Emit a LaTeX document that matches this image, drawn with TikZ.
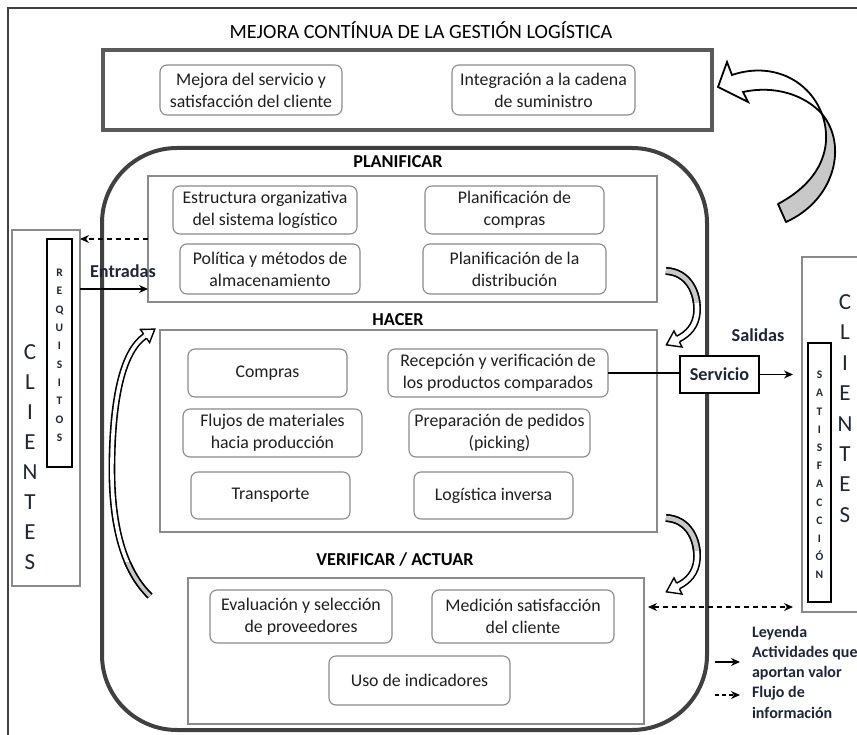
\documentclass[tikz,border=0pt]{standalone}
\usepackage{fontspec}
\setmainfont{Carlito}
\usetikzlibrary{arrows.meta}
\definecolor{ink}{HTML}{1E2538}
\definecolor{boxline}{HTML}{8A8A8A}
\definecolor{thickline}{HTML}{5A5A5A}
\definecolor{darkline}{HTML}{404040}
\definecolor{ribbongray}{HTML}{C8C8C8}
\newcommand\dgItem{\fontsize{17.8}{22}\selectfont}
\newcommand\dgHead{\fontsize{18.2}{20}\selectfont\bfseries}
\newcommand\dgTitle{\fontsize{20.2}{22}\selectfont}
\newcommand\dgBig{\fontsize{23}{26}\selectfont}
\newcommand\dgTiny{\fontsize{11.5}{13}\selectfont\bfseries}
\newcommand\dgLegend{\fontsize{16}{18}\selectfont\bfseries}
\begin{document}
\begin{tikzpicture}[x=1pt,y=-1pt,
  every node/.style={inner sep=0pt,outer sep=0pt},
  item/.style={draw=boxline,line width=1.1pt,rounded corners=7pt,fill=white,
    align=center,font=\dgItem,text=black!88},
  section/.style={draw=boxline,line width=1.2pt,fill=white},
  heading/.style={font=\dgHead,text=black},
  bigletter/.style={font=\dgBig,text=ink,text height=14.8pt,text depth=0pt},
  tinyletter/.style={font=\dgTiny,text=ink,text height=7.4pt,text depth=0pt},
  flowlabel/.style={font=\dgHead,text=ink},
  legendtext/.style={font=\dgLegend,text=ink,anchor=west},
  valuearrow/.style={line width=1.2pt,-{Stealth[length=9pt,width=8pt]}},
  infoarrow/.style={line width=1.2pt,dash pattern=on 5pt off 4pt,-{Stealth[length=9pt,width=8pt]}},
  ribbon/.style={draw=black,line width=1.6pt,double=white,double distance=3.6pt},
  ribbonwide/.style={draw=black,line width=1.6pt,double=white,double distance=4.6pt},
  headS/.pic={\filldraw[fill=white,draw=black,line width=1.4pt,line join=miter]
    (0,2.6) -- (0,8) -- (12,0) -- (0,-8) -- (0,-2.6);},
  headM/.pic={\filldraw[fill=white,draw=black,line width=1.4pt,line join=miter]
    (0,3.1) -- (0,9) -- (13,0) -- (0,-9) -- (0,-3.1);}
]
\useasboundingbox (0,0) rectangle (857,735);
\clip (0,0) rectangle (857,735);

% outer frame (runs off the page on the right and bottom)
\draw[darkline,line width=1.5pt] (8,745) -- (8,8) -- (870,8);

% title and continuous-improvement block
\node[font=\dgTitle,text=black] (title) at (421,30) {MEJORA CONTÍNUA DE LA GESTIÓN LOGÍSTICA};
\node[draw=thickline,line width=4pt,minimum width=609pt,minimum height=80pt] (mejora) at (407.5,90) {};
\node[item,minimum width=182pt,minimum height=50pt] (m1) at (251,90) {Mejora del servicio y\\satisfacción del cliente};
\node[item,minimum width=183pt,minimum height=50pt] (m2) at (543.5,90) {Integración a la cadena\\de suministro};

% big cycle frame
\node[draw=darkline,line width=4pt,rounded corners=75pt,minimum width=605pt,minimum height=582pt] (ciclo) at (404.5,439) {};

% PLANIFICAR
\node[heading] (tplan) at (398,162) {PLANIFICAR};
\node[section,minimum width=509pt,minimum height=126pt] (plan) at (402.5,239) {};
\node[item,minimum width=184pt,minimum height=48pt] (p1) at (265,210) {Estructura organizativa\\del sistema logístico};
\node[item,minimum width=179pt,minimum height=48pt] (p2) at (514.5,210) {Planificación de\\compras};
\node[item,minimum width=180pt,minimum height=50pt] (p3) at (270,269) {Política y métodos de\\almacenamiento};
\node[item,minimum width=183pt,minimum height=50pt] (p4) at (514.5,269) {Planificación de la\\distribución};

% HACER
\node[heading] (thacer) at (398,320) {HACER};
\node[section,minimum width=497pt,minimum height=202pt] (hacer) at (408.5,431) {};
\node[item,minimum width=159pt,minimum height=48pt] (h1) at (267.5,373) {Compras};
\node[item,minimum width=220pt,minimum height=48pt] (h2) at (498,373) {Recepción y verificación de\\los productos comparados};
\node[item,minimum width=179pt,minimum height=48pt] (h3) at (272.5,433) {Flujos de materiales\\hacia producción};
\node[item,minimum width=181pt,minimum height=48pt] (h4) at (499.5,433) {Preparación de pedidos\\(picking)};
\node[item,minimum width=159pt,minimum height=47pt] (h5) at (270.5,495.5) {Transporte};
\node[item,minimum width=159pt,minimum height=47pt] (h6) at (493.5,495.5) {Logística inversa};

% VERIFICAR / ACTUAR
\node[heading] (tverif) at (395,560) {VERIFICAR / ACTUAR};
\node[section,minimum width=456pt,minimum height=146pt] (verif) at (416,651) {};
\node[item,minimum width=182pt,minimum height=53pt] (v1) at (301,616.5) {Evaluación y selección\\de proveedores};
\node[item,minimum width=182pt,minimum height=53pt] (v2) at (523,616.5) {Medición satisfacción\\del cliente};
\node[item,minimum width=181pt,minimum height=49pt] (v3) at (419.5,680.5) {Uso de indicadores};

% customers, input side
\node[draw=boxline,line width=2.5pt,minimum width=68pt,minimum height=356pt] (clL) at (46,408) {};
\node[draw=black,line width=1.2pt,minimum width=25pt,minimum height=228pt] (req) at (59.5,353) {};
\foreach \ch [count=\i from 0] in {C,L,I,E,N,T,E,S}
  \node[bigletter] (cl\i) at (30,352+30*\i) {\ch};
\foreach \ch [count=\i from 0] in {R,E,Q,U,I,S,I,T,O,S}
  \node[tinyletter] (rq\i) at (59.5,273+18.3*\i) {\ch};

% customers, output side
\node[draw=boxline,line width=2.5pt,minimum width=78pt,minimum height=355pt] (clR) at (841,434.5) {};
\node[draw=black,line width=1.2pt,minimum width=23pt,minimum height=259pt] (sat) at (819.5,472.5) {};
\foreach \ch [count=\i from 0] in {C,L,I,E,N,T,E,S}
  \node[bigletter] (cr\i) at (845,302+30.4*\i) {\ch};
\foreach \ch [count=\i from 0] in {S,A,T,I,S,F,A,C,C,I,Ó,N}
  \node[tinyletter] (st\i) at (819.5,375+18.2*\i) {\ch};

% inputs
\coordinate (yent) at (0,289);
\draw[infoarrow] (plan.west) -- (clL.east |- plan.west);
\node[flowlabel] (entradas) at (123,271) {Entradas};
\draw[valuearrow] (clL.east |- yent) -- (plan.west |- yent);

% outputs
\node[flowlabel] (salidas) at (758,335) {Salidas};
\node[draw=black,line width=1.2pt,fill=white,minimum width=79pt,minimum height=37pt,font=\dgHead,text=ink] (serv) at (719.5,374.5) {Servicio};
\draw[line width=1.2pt] (h2.east) -- (serv.west |- h2.east);
\draw[valuearrow,shorten >=9pt] (serv.east) -- (clR.west |- serv.east);
\coordinate (yinfo) at (0,607);
\draw[infoarrow,{Stealth[length=9pt,width=8pt]}-{Stealth[length=9pt,width=8pt]},shorten <=4pt,shorten >=9pt]
  (verif.east |- yinfo) -- (clR.west |- yinfo);

% legend
\node[legendtext] (ley0) at (752,633) {Leyenda};
\node[legendtext] (ley1) at (752,653) {Actividades que};
\node[legendtext] (ley2) at (752,673) {aportan valor};
\node[legendtext] (ley3) at (752,693) {Flujo de};
\node[legendtext] (ley4) at (752,713) {información};
\coordinate (la1) at (715,662);
\coordinate (la2) at (740,662);
\coordinate (lb1) at (715,695);
\coordinate (lb2) at (740,695);
\draw[valuearrow] (la1) -- (la2);
\draw[infoarrow,dash pattern=on 4pt off 3pt] (lb1) -- (lb2);

% ribbon arrow: from VERIFICAR back up to HACER
\draw[ribbon] (150,596) .. controls (118,565) and (111,510) .. (112,460)
  .. controls (113,400) and (122,352) .. (145,336);
\begin{scope}
  \clip (90,562) rectangle (175,615);
  \draw[ribbon,double=ribbongray] (150,596) .. controls (118,565) and (111,510) .. (112,460);
\end{scope}
\pic[rotate=35] at (145,336) {headS};

% ribbon arrows on the right: PLANIFICAR -> HACER -> VERIFICAR
\foreach \dy/\nm in {0/a,247/b}{
  \begin{scope}[shift={(0,\dy)}]
    \draw[ribbonwide] (666,271) .. controls (688,272) and (698,292) .. (697,312)
      .. controls (696,326) and (688,334) .. (678,339);
    \begin{scope}
      \clip (655,255) rectangle (710,303);
      \draw[ribbonwide,double=ribbongray] (666,271) .. controls (688,272) and (698,292) .. (697,312);
    \end{scope}
    \pic[rotate=206.6] (hd\nm) at (678,339) {headM};
  \end{scope}
}

% large ribbon arrow: cycle feeds continuous improvement
\filldraw[fill=ribbongray,draw=black,line width=1.8pt,line join=round]
  (778,204) -- (786,222) .. controls (835,200) and (848,145) .. (822,114)
  .. controls (833,145) and (823,180) .. (778,204) -- cycle;
\filldraw[fill=white,draw=black,line width=1.8pt,line join=miter]
  (822,114) .. controls (808,78) and (770,62) .. (732,75)
  -- (727,62) -- (718,87) -- (748,102) -- (743,92)
  .. controls (775,85) and (805,95) .. (822,114) -- cycle;
\end{tikzpicture}
\end{document}
